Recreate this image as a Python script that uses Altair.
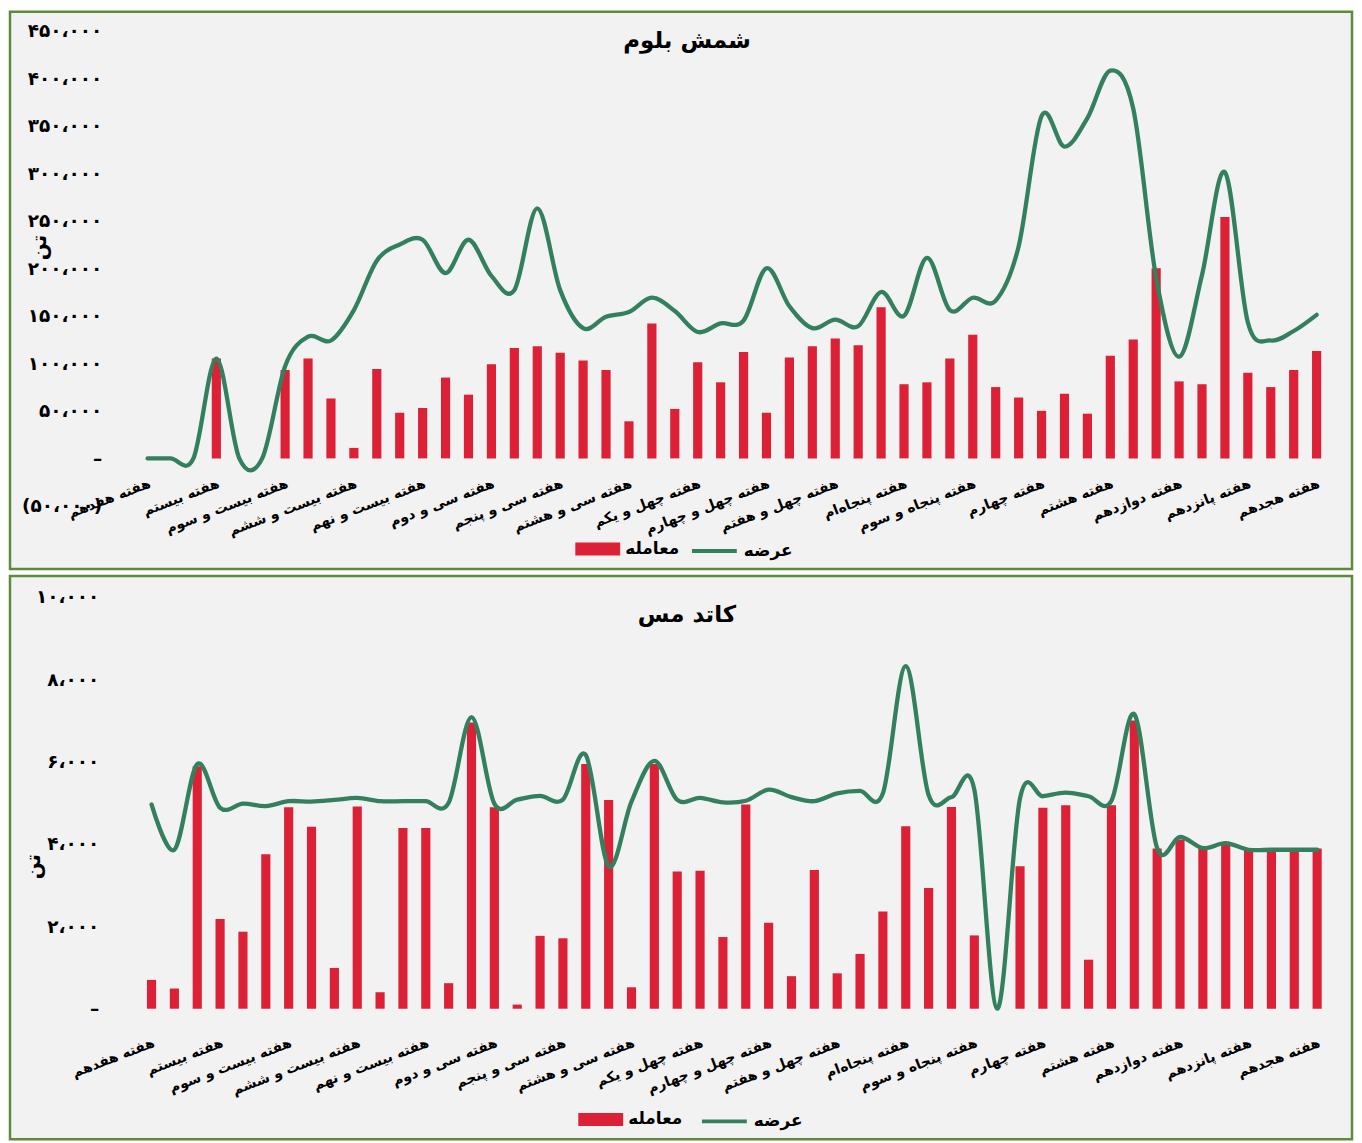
import json
import altair as alt
import pandas as pd

# ---------------- data ----------------
week_labels = [
    "هفته هفدهم", "هفته بیستم", "هفته بیست و سوم", "هفته بیست و ششم",
    "هفته بیست و نهم", "هفته سی و دوم", "هفته سی و پنجم", "هفته سی و هشتم",
    "هفته چهل و یکم", "هفته چهل و چهارم", "هفته چهل و هفتم", "هفته پنجاه‌ام",
    "هفته پنجاه و سوم", "هفته چهارم", "هفته هشتم", "هفته دوازدهم",
    "هفته پانزدهم", "هفته هجدهم",
]
series_names = ["معامله", "عرضه"]

bloom_trade = [0, 0, 0, 105000, 0, 0, 93000, 105000, 63000, 11000,
               94000, 48000, 53000, 85000, 67000, 99000, 116000, 118000, 111000, 103000,
               93000, 39000, 142000, 52000, 101000, 80000, 112000, 48000, 106000, 118000,
               126000, 119000, 159000, 78000, 80000, 105000, 130000, 75000, 64000, 50000,
               68000, 47000, 108000, 125000, 200000, 81000, 78000, 254000, 90000, 75000,
               93000, 113000]
bloom_supply = [0, 0, 0, 105000, 0, 0, 97000, 128000, 124000, 156000,
                208000, 225000, 230000, 195000, 230000, 192000, 177000, 263000, 177000, 137000,
                149000, 154000, 169000, 155000, 133000, 142000, 145000, 200000, 160000, 137000,
                146000, 139000, 175000, 150000, 211000, 156000, 169000, 166000, 223000, 360000,
                328000, 358000, 408000, 368000, 190000, 107000, 193000, 301000, 143000, 124000,
                134000, 151000]

copper_trade = [700, 490, 5890, 2180, 1870, 3750, 4890, 4420, 990, 4910,
                400, 4390, 4390, 620, 6950, 4890, 100, 1770, 1710, 5940,
                5070, 520, 5940, 3330, 3350, 1740, 4960, 2090, 790, 3370,
                860, 1330, 2360, 4430, 2930, 4900, 1780, 0, 3460, 4880,
                4940, 1190, 4940, 7000, 3890, 4110, 3900, 3990, 3860, 3860,
                3860, 3890]
copper_supply = [4960, 3860, 5940, 4880, 4980, 4920, 5040, 5030, 5070, 5120,
                 5040, 5040, 5040, 5000, 7080, 4980, 5080, 5170, 5080, 6160,
                 3460, 5030, 6020, 5070, 5120, 5010, 5050, 5320, 5140, 5040,
                 5230, 5290, 5230, 8320, 5190, 5140, 5320, 0, 5110, 5160,
                 5250, 5160, 5050, 7150, 3900, 4170, 3900, 4020, 3860, 3860,
                 3860, 3860]

bloom_ticks = [-50000, 0, 50000, 100000, 150000, 200000, 250000, 300000, 350000, 400000, 450000]
copper_ticks = [0, 2000, 4000, 6000, 8000, 10000]

# ---------------- style ----------------
RED = "#dc2035"
GREEN = "#33805f"
BG = "#f2f2f2"
BORDER = "#5e8b3b"
FONT = "DejaVu Sans"
RECT_PATH = "M-1,-0.29H1V0.29H-1Z"

FA = str.maketrans("0123456789", "۰۱۲۳۴۵۶۷۸۹")


def fa(v):
    if v == 0:
        return "–"
    s = f"{abs(v):,}".replace(",", "،").translate(FA)
    return f"({s})" if v < 0 else s


def legend(x, y, shape, stroke_w):
    return alt.Legend(
        orient="none", legendX=x, legendY=y - 22.5, direction="horizontal",
        title=None, symbolSize=2025, symbolType=shape, symbolStrokeWidth=stroke_w,
        symbolOpacity=1, labelFont=FONT, labelFontSize=17, labelFontWeight="bold",
        labelColor="#000000", labelOffset=5, padding=0,
    )


def panel(title, trade, supply, ticks, W, H, xrange, yrange, yaxis_x, title_xy,
          xaxis_y, label_pad, legend_xs, legend_y, title_y):
    n = len(trade)
    rows = []
    for i in range(n):
        rows.append({"i": i, "series": series_names[0], "value": trade[i]})
        rows.append({"i": i, "series": series_names[1], "value": supply[i]})
    df = pd.DataFrame(rows)

    labels_js = json.dumps(week_labels, ensure_ascii=False)
    x_label_expr = f"datum.value % 3 == 0 ? {labels_js}[datum.value / 3] : ''"
    tick_js = json.dumps(ticks)
    tick_lbl_js = json.dumps([fa(t) for t in ticks], ensure_ascii=False)
    y_label_expr = f"{tick_lbl_js}[indexof({tick_js}, datum.value)]"

    x = alt.X(
        "i:O",
        scale=alt.Scale(range=xrange, paddingInner=0.6, paddingOuter=0.3),
        axis=alt.Axis(
            values=list(range(0, n, 3)), labelExpr=x_label_expr, labelAngle=-21,
            labelAlign="right", labelBaseline="top", labelPadding=label_pad,
            offset=-(H - xaxis_y), domain=False, ticks=False, title=None,
            labelFont=FONT, labelFontSize=14, labelFontWeight="bold",
            labelColor="#000000", labelOverlap=False, labelLimit=400,
        ),
    )
    y = alt.Y(
        "value:Q",
        stack=None,
        scale=alt.Scale(domain=[ticks[0], ticks[-1]], range=yrange, nice=False, zero=False),
        axis=alt.Axis(
            values=ticks, labelExpr=y_label_expr, offset=-yaxis_x, domain=False,
            ticks=False, grid=False, labelPadding=0, labelFont=FONT,
            labelFontSize=18.5, labelFontWeight="bold", labelColor="#000000",
            title="تن", titleFont=FONT, titleFontSize=20, titleFontWeight="bold",
            titleColor="#000000", titleAngle=-90, titleX=title_xy[0] - yaxis_x,
            titleY=title_xy[1], titleAlign="center", titleBaseline="middle",
        ),
    )

    base = alt.Chart(df)
    bars = base.transform_filter(alt.datum.series == series_names[0]).mark_bar(
        opacity=1
    ).encode(
        x=x, y=y,
        fill=alt.Fill("series:N", scale=alt.Scale(domain=[series_names[0]], range=[RED]),
                      legend=legend(legend_xs[0], legend_y, RECT_PATH, 0)),
    )
    line = base.transform_filter(alt.datum.series == series_names[1]).mark_line(
        interpolate="cardinal", strokeWidth=4.3, strokeCap="round", strokeJoin="round"
    ).encode(
        x=x, y=y,
        stroke=alt.Stroke("series:N", scale=alt.Scale(domain=[series_names[1]], range=[GREEN]),
                          legend=legend(legend_xs[1], legend_y, "stroke", 4)),
    )

    return alt.layer(bars, line).resolve_scale(fill="independent", stroke="independent").properties(
        width=W, height=H,
        title=alt.TitleParams(
            text=title, anchor="middle", offset=-title_y, baseline="middle",
            font=FONT, fontSize=23, fontWeight="bold", color="#000000", dx=6,
        ),
    )


W = 1346
top = panel(
    "شمش بلوم", bloom_trade, bloom_supply, bloom_ticks, W, 559,
    xrange=[126.5, 1322.0], yrange=[495.7, 19.0], yaxis_x=92, title_xy=(30, 236),
    xaxis_y=448, label_pad=18, legend_xs=(567, 682), legend_y=539, title_y=52,
)
bottom = panel(
    "کاتد مس", copper_trade, copper_supply, copper_ticks, W, 565,
    xrange=[130.5, 1322.5], yrange=[434.0, 21.0], yaxis_x=89, title_xy=(24, 291),
    xaxis_y=434, label_pad=27, legend_xs=(570, 692), legend_y=545, title_y=62,
)

chart = alt.vconcat(top, bottom, spacing=3).properties(
    padding=0, background="#ffffff"
).configure_view(
    stroke=BORDER, strokeWidth=2.5, fill=BG
).configure_axis(grid=False)

chart.save("out.html", embed_options={"renderer": "svg", "actions": False})
